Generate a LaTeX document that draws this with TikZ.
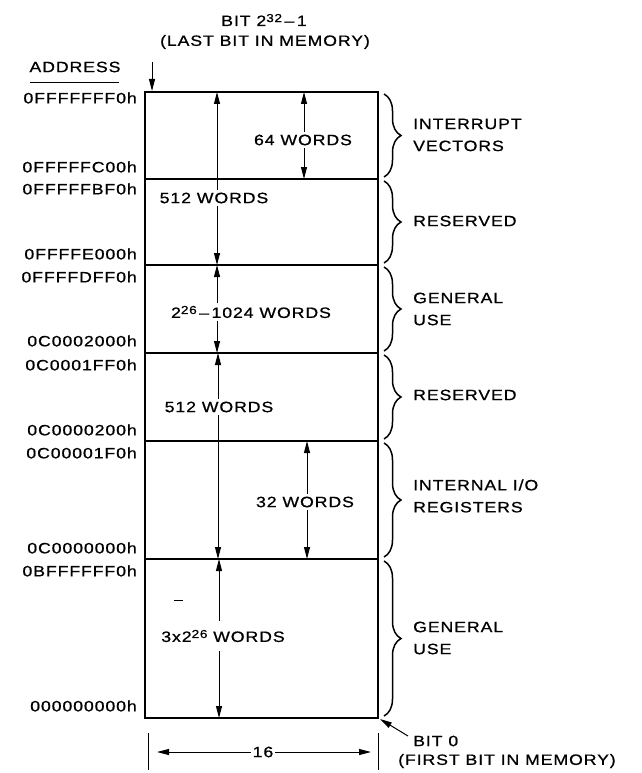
\documentclass[tikz,border=0pt]{standalone}
\usepackage{fontspec}
\setmainfont{Liberation Sans}[FakeStretch=1.18,LetterSpace=6,FakeBold=0.8]
\usetikzlibrary{arrows.meta,decorations.pathreplacing}
\newcommand{\supr}[1]{\raisebox{0.5ex}{\fontsize{11.5}{11.5}\selectfont #1}}
\begin{document}
\begin{tikzpicture}[x=1pt,y=-1pt,
  lbl/.style={font=\fontsize{15}{16}\selectfont, inner sep=1pt},
  addr/.style={lbl, anchor=east},
  wlbl/.style={lbl, fill=white, inner sep=3pt},
  side/.style={lbl, anchor=west, align=left, font=\fontsize{15}{22}\selectfont},
  tipA/.tip={Triangle[length=12pt,width=6pt]},
  dimarrow/.style={line width=1pt, tipA-tipA},
  onearrow/.style={line width=1pt, -tipA},
  brc/.style={decorate, decoration={brace, amplitude=17pt}, line width=1.5pt},
  frame/.style={line width=1.9pt}]

\useasboundingbox (0,0) rectangle (641,773);

% frame coordinates
\foreach \i/\yy in {0/92,1/179,2/265,3/353,4/441,5/559,6/718}{
  \coordinate (l\i) at (145,\yy);
  \coordinate (r\i) at (378,\yy);
  \coordinate (b\i) at (384,\yy);
}
\draw[frame] (l0) rectangle (r6);
\foreach \i in {1,...,5}{ \draw[frame] (l\i) -- (r\i); }

% top labels
\node[lbl] (bittop) at (264,20) {BIT 2\supr{32}\,–\,1};
\node[lbl] (lastbit) at (265,42) {(LAST BIT IN MEMORY)};
\coordinate (tstart) at (152,62);
\coordinate (tend) at (152,91);
\draw[onearrow] (tstart) -- (tend);

\node[lbl] (address) at (75,67) {ADDRESS};
\coordinate (ul1) at (30,82);
\coordinate (ul2) at (119,82);
\draw[line width=0.8pt] (ul1) -- (ul2);

% addresses
\node[addr] (a1) at (138,98) {0FFFFFFF0h};
\node[addr] (a2) at (138,167) {0FFFFFC00h};
\node[addr] (a3) at (138,189) {0FFFFFBF0h};
\node[addr] (a4) at (138,254) {0FFFFE000h};
\node[addr] (a5) at (138,277) {0FFFFDFF0h};
\node[addr] (a6) at (138,341) {0C0002000h};
\node[addr] (a7) at (138,365) {0C0001FF0h};
\node[addr] (a8) at (138,430) {0C0000200h};
\node[addr] (a9) at (138,453) {0C00001F0h};
\node[addr] (a10) at (138,548) {0C0000000h};
\node[addr] (a11) at (138,571) {0BFFFFFF0h};
\node[addr] (a12) at (138,706) {000000000h};

% word-count arrows
\coordinate (w1t) at (217,92);  \coordinate (w1b) at (217,265);
\coordinate (w2t) at (304,92);  \coordinate (w2b) at (304,179);
\coordinate (w3t) at (217,265); \coordinate (w3b) at (217,353);
\coordinate (w4t) at (218,353); \coordinate (w4b) at (218,559);
\coordinate (w5t) at (307,441); \coordinate (w5b) at (307,559);
\coordinate (w6t) at (219,559); \coordinate (w6b) at (219,718);
\foreach \k in {1,...,6}{ \draw[dimarrow] (w\k t) -- (w\k b); }

\node[wlbl] (n1) at (214,198) {512 WORDS};
\node[wlbl] (n2) at (303,140) {64 WORDS};
\node[wlbl] (n3) at (251,312) {2\supr{26}\,–\,1024 WORDS};
\node[wlbl] (n4) at (219,407) {512 WORDS};
\node[wlbl] (n5) at (305,502) {32 WORDS};
\node[wlbl, inner ysep=9pt] (n6) at (223,636) {3x2\supr{26} WORDS};
\coordinate (dsh1) at (174,600);
\coordinate (dsh2) at (183,600);
\draw[line width=1pt] (dsh1) -- (dsh2);

% braces
\draw[brc] ([yshift=-2pt]b0) -- ([yshift=2pt]b1);
\draw[brc] ([yshift=-2pt]b1) -- ([yshift=2pt]b2);
\draw[brc] ([yshift=-2pt]b2) -- ([yshift=2pt]b3);
\draw[brc] ([yshift=-2pt]b3) -- ([yshift=2pt]b4);
\draw[brc] ([yshift=-2pt]b4) -- ([yshift=2pt]b5);
\draw[brc] ([yshift=-2pt]b5) -- ([yshift=2pt]b6);

\node[side] (s1) at (412,135) {INTERRUPT\\VECTORS};
\node[side] (s2) at (412,221) {RESERVED};
\node[side] (s3) at (412,309) {GENERAL\\USE};
\node[side] (s4) at (412,395) {RESERVED};
\node[side] (s5) at (412,496) {INTERNAL I/O\\REGISTERS};
\node[side] (s6) at (412,638) {GENERAL\\USE};

% bottom dimension
\coordinate (t1a) at (148,733); \coordinate (t1b) at (148,770);
\coordinate (t2a) at (378,733); \coordinate (t2b) at (378,770);
\draw[line width=0.9pt] (t1a) -- (t1b);
\draw[line width=0.9pt] (t2a) -- (t2b);
\coordinate (d1) at (157,752); \coordinate (d2) at (371,752);
\draw[dimarrow] (d1) -- (d2);
\node[wlbl, inner xsep=2pt] (sixteen) at (263,752) {16};

% bit 0
\node[lbl, anchor=west] (bit0) at (412,741) {BIT 0};
\node[lbl, anchor=west] (firstbit) at (397,761) {(FIRST BIT IN MEMORY)};
\coordinate (b0s) at (408,736);
\coordinate (b0e) at (380,719);
\draw[onearrow] (b0s) -- (b0e);
\end{tikzpicture}
\end{document}
